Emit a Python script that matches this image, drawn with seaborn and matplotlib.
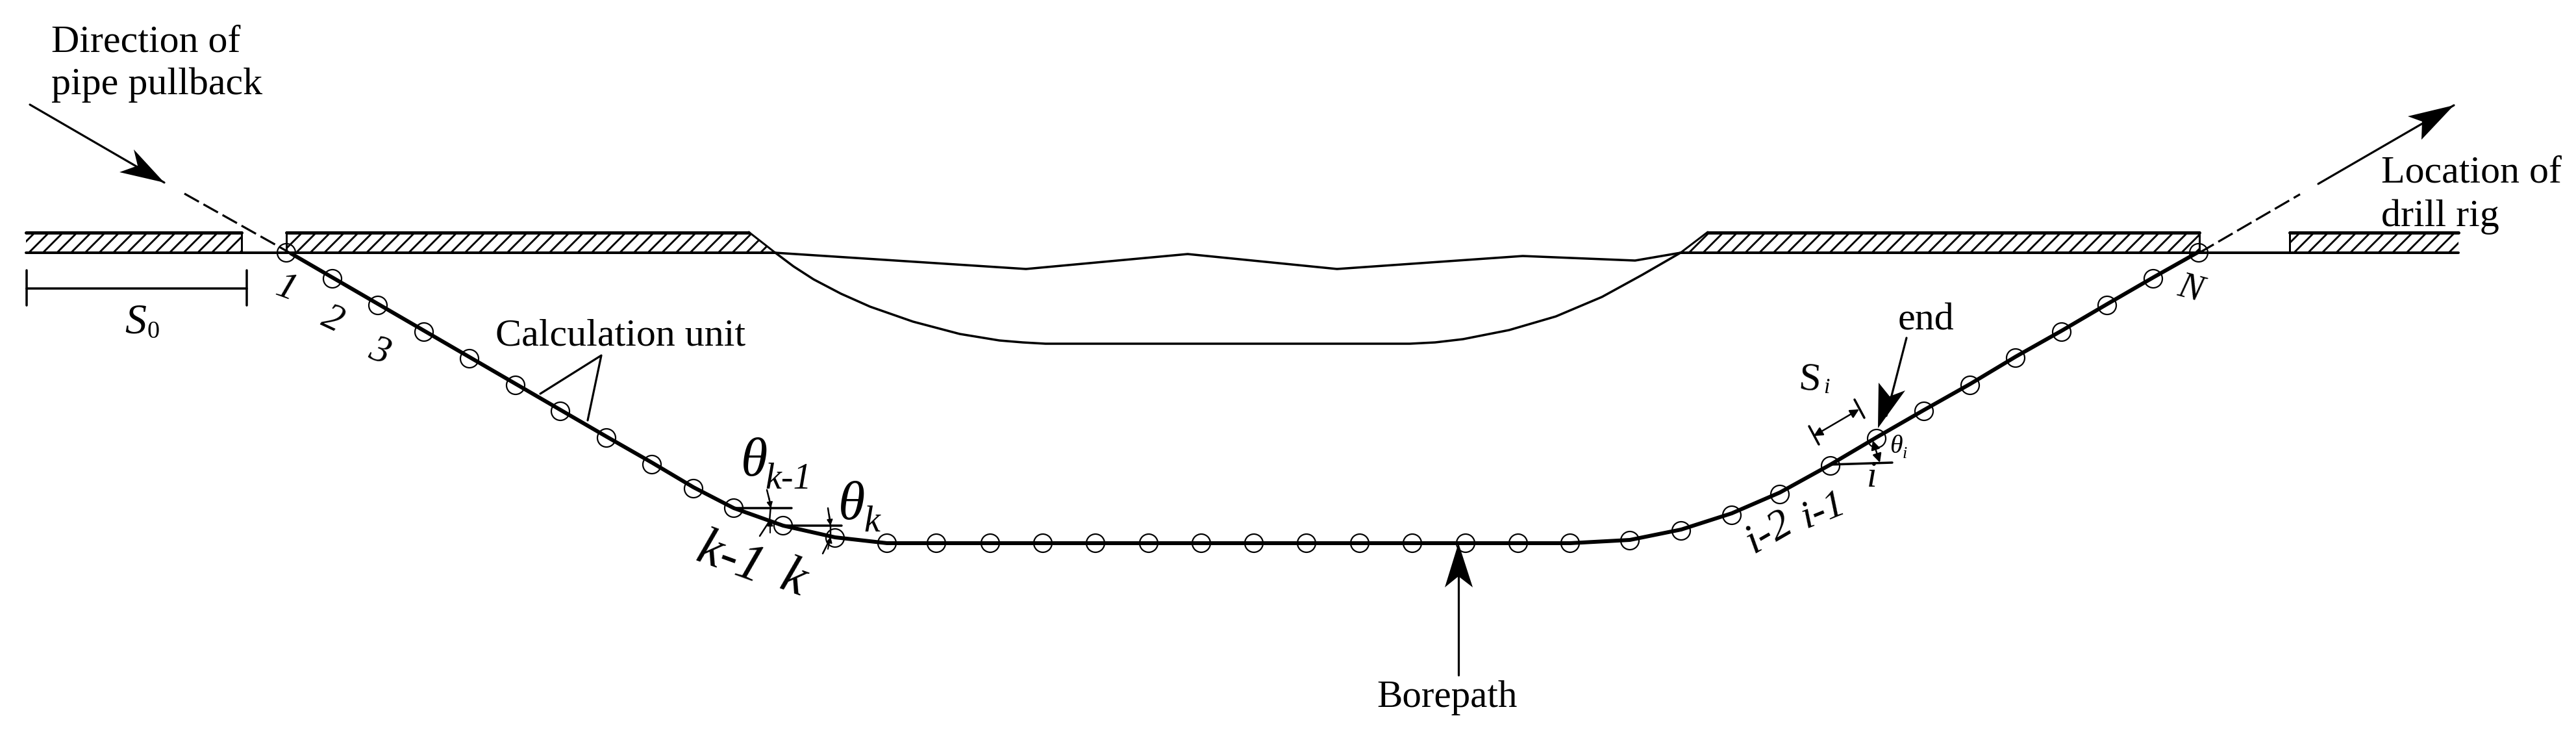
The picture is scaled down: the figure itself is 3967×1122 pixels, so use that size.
import matplotlib
matplotlib.use("Agg")
import matplotlib.pyplot as plt
import seaborn as sns

sns.set_theme(style="white")
plt.rcParams["font.family"] = ["Liberation Serif", "DejaVu Serif"]
plt.rcParams["hatch.linewidth"] = 1.6

DPI = 130

# -----------------------------
# DATA (pixel units)
# -----------------------------
node_x = [441, 512, 582, 653, 723, 794, 863, 934, 1004, 1068, 1130, 1206, 1286, 1366,
          1442, 1525, 1606, 1687, 1769, 1850, 1931, 2012, 2094, 2175, 2257, 2338, 2418,
          2510, 2589, 2667, 2741, 2819, 2890, 2963, 3034, 3104, 3175, 3245, 3316, 3386]
node_y = [389, 429, 470, 511, 552, 593, 633, 674, 715, 752, 782, 809, 828, 836,
          836, 836, 836, 836, 836, 836, 836, 836, 836, 836, 836, 836, 836,
          832, 817, 793, 761, 717, 675, 633, 593, 551, 511, 470, 429, 389]

path_x = [448, 934, 1004, 1068, 1130, 1206, 1286, 1366, 2418, 2510, 2589, 2667, 2741,
          2819, 2890, 2963, 3034, 3104, 3175, 3245, 3316, 3387]
path_y = [390, 672, 712, 750, 782, 809, 827, 836, 836, 831, 815, 790, 758,
          715, 673, 631, 591, 549, 509, 468, 427, 387]

riverbed_x = [1194, 1222, 1253, 1295, 1340, 1406, 1478, 1539, 1575, 1610, 2171, 2210, 2253,
              2324, 2396, 2467, 2529, 2588]
riverbed_y = [389, 410, 430, 452, 472, 495, 514, 524, 527, 529, 529, 527, 522,
              508, 487, 457, 423, 389]

water_x = [1194, 1580, 1829, 2059, 2345, 2518, 2588]
water_y = [389, 414, 391, 414, 394, 401, 389]

bank_left_x = [40, 372, 372, 40]
bank_mid_x = [441, 1153, 1194, 441]
bank_right_x = [2630, 3387, 3387, 2588]
bank_far_x = [3526, 3786, 3786, 3526]
bank_top_y = [357, 357, 389, 389]

pull_solid_x, pull_solid_y = [46, 253], [161, 281]
pull_dash_x, pull_dash_y = [284, 448], [298, 390]
pull_head_x, pull_head_y = [253, 206, 212, 184], [281, 230, 255, 265]

rig_dash_x, rig_dash_y = [3387, 3542], [389, 299]
rig_solid_x, rig_solid_y = [3570, 3779], [283, 162]
rig_head_x, rig_head_y = [3779, 3708, 3730, 3729], [162, 179, 187, 215]

bore_x, bore_y = [2246, 2246], [1039, 850]
bore_head_x, bore_head_y = [2246, 2225, 2246, 2268], [836, 904, 887, 904]

end_x, end_y = [2936, 2905], [520, 640]
end_head_x, end_head_y = [2892, 2893, 2910, 2934], [659, 589, 610, 601]

unit_x, unit_y = [832, 926, 905], [606, 547, 647]

# (x0, y0, x1, y1)
thin_lines = [
    (41, 444, 380, 444),      # S0 bar
    (41, 416, 41, 470),
    (380, 416, 380, 470),
    (1130, 782, 1219, 782),   # theta k-1 reference
    (1206, 809, 1296, 809),   # theta k reference
    (2856, 615, 2871, 643),   # Si ticks
    (2786, 656, 2801, 684),
    (2819, 715, 2914, 712),   # theta i reference
]
arc_k1_x, arc_k1_y = [1181, 1187, 1185, 1170], [754, 778, 802, 825]
arc_k_x, arc_k_y = [1275, 1279, 1279, 1267], [782, 808, 828, 852]

# (x_from, y_from, x_to, y_to)
small_heads = [
    (1184, 765, 1187, 782),
    (1186, 820, 1186, 800),
    (1277, 792, 1279, 809),
    (1275, 845, 1279, 826),
]
double_arrows = [
    (2793, 671, 2863, 630),
    (2884, 678, 2895, 712),
]

# (text, x, y, size in px, style, rotation)
labels_left = [
    ("Direction of", 79, 79, 60, "normal", 0),
    ("pipe pullback", 79, 145, 60, "normal", 0),
    ("Calculation unit", 763, 531, 60, "normal", 0),
    ("Borepath", 2120, 1088, 59, "normal", 0),
    ("Location of", 3667, 280, 60, "normal", 0),
    ("drill rig", 3667, 348, 60, "normal", 0),
    ("end", 2923, 507, 60, "normal", 0),
    ("S", 192, 512, 66, "italic", 0),
    ("0", 226, 520, 38, "normal", 0),
    ("\u03b8", 1141, 732, 84, "italic", 0),
    ("k-1", 1178, 752, 56, "italic", 0),
    ("\u03b8", 1291, 799, 84, "italic", 0),
    ("k", 1330, 818, 56, "italic", 0),
    ("\u03b8", 2910, 697, 40, "italic", 0),
    ("i", 2930, 705, 26, "italic", 0),
]
labels_center = [
    ("1", 441, 445, 60, "italic", -20),
    ("2", 511, 493, 60, "italic", -25),
    ("3", 584, 542, 60, "italic", -20),
    ("S", 2787, 585, 62, "normal", -5),
    ("i", 2813, 597, 34, "italic", 0),
    ("k-1", 1125, 862, 82, "italic", -20),
    ("k", 1221, 893, 82, "italic", -20),
    ("i", 2883, 735, 56, "italic", 0),
    ("i-1", 2808, 786, 62, "italic", 22),
    ("i-2", 2724, 820, 66, "italic", 30),
    ("N", 3373, 445, 56, "italic", -15),
]


def pt(px):
    return px * 72 / DPI


def draw(x, y, width, **kws):
    sns.lineplot(x=x, y=y, sort=False, estimator=None, errorbar=None, color="black",
                 linewidth=pt(width), legend=False, ax=ax, **kws)


# -----------------------------
# FIGURE
# -----------------------------
fig = plt.figure(figsize=(3967 / DPI, 1122 / DPI), dpi=DPI, facecolor="white")
ax = fig.add_axes([0, 0, 1, 1])

# banks
for bank_x in [bank_left_x, bank_mid_x, bank_right_x, bank_far_x]:
    ax.fill(bank_x, bank_top_y, facecolor="white", edgecolor="black", hatch="//", linewidth=0)

draw([40, 372], [358, 358], 5)
draw([441, 1153], [358, 358], 5)
draw([2630, 3387], [358, 358], 5)
draw([3526, 3786], [358, 358], 5)
draw([40, 1194], [389, 389], 4)
draw([2588, 3786], [389, 389], 4)
draw([372, 372], [357, 389], 3)
draw([441, 441], [357, 389], 3)
draw([3387, 3387], [357, 389], 3)
draw([3526, 3526], [357, 389], 3)
draw([1153, 1194], [357, 389], 3)
draw([2630, 2588], [357, 389], 3)

# river
draw(riverbed_x, riverbed_y, 3.5)
draw(water_x, water_y, 3.5)

# bore path and calculation units
draw(path_x, path_y, 6)
sns.scatterplot(x=node_x, y=node_y, s=pt(28) ** 2, facecolor="none", edgecolor="black",
                linewidth=pt(2.2), legend=False, ax=ax, zorder=3)

# extension lines
draw(pull_solid_x, pull_solid_y, 3.2)
draw(pull_dash_x, pull_dash_y, 3.2, linestyle=(0, (8, 2.5)))
draw(rig_solid_x, rig_solid_y, 3.2)
draw(rig_dash_x, rig_dash_y, 3.2, linestyle=(0, (8, 2.5)))
draw(bore_x, bore_y, 3.2)
draw(end_x, end_y, 3.2)
draw(unit_x, unit_y, 3.2)

# arrow heads
for hx, hy in [(pull_head_x, pull_head_y), (rig_head_x, rig_head_y),
               (bore_head_x, bore_head_y), (end_head_x, end_head_y)]:
    ax.fill(hx, hy, color="black", linewidth=0)

for x0, y0, x1, y1 in thin_lines:
    draw([x0, x1], [y0, y1], 3.5)
draw(arc_k1_x, arc_k1_y, 2.5)
draw(arc_k_x, arc_k_y, 2.5)

for x0, y0, x1, y1 in small_heads:
    ax.annotate("", xy=(x1, y1), xytext=(x0, y0),
                arrowprops=dict(arrowstyle="-|>", color="black", lw=pt(2), mutation_scale=pt(18),
                                shrinkA=0, shrinkB=0))
for x0, y0, x1, y1 in double_arrows:
    ax.annotate("", xy=(x1, y1), xytext=(x0, y0),
                arrowprops=dict(arrowstyle="<|-|>", color="black", lw=pt(2.5), mutation_scale=pt(28),
                                shrinkA=0, shrinkB=0))

# texts
for s, x, y, size, style, rot in labels_left:
    ax.text(x, y, s, fontsize=pt(size), fontstyle=style, rotation=rot, ha="left", va="baseline",
            rotation_mode="anchor", color="black")
for s, x, y, size, style, rot in labels_center:
    ax.text(x, y, s, fontsize=pt(size), fontstyle=style, rotation=rot, ha="center", va="center",
            rotation_mode="anchor", color="black")

ax.set_xlim(0, 3967)
ax.set_ylim(1122, 0)
ax.axis("off")

fig.savefig("out.png", dpi=DPI, facecolor="white")
plt.close(fig)
